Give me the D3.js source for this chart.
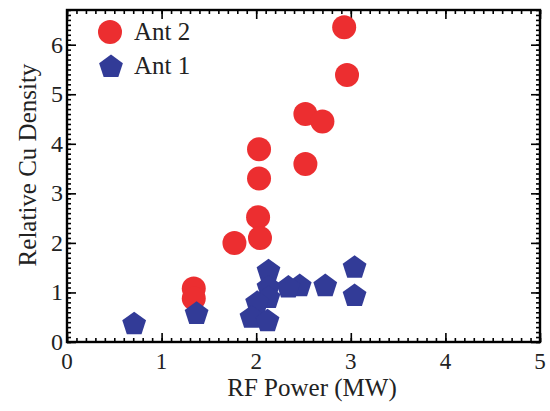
<!DOCTYPE html>
<html>
<head>
<meta charset="utf-8">
<script src="https://cdn.jsdelivr.net/npm/d3@7.9.0/dist/d3.min.js"></script>
<style>
  html, body { margin: 0; padding: 0; background: #fff; }
  svg text { font-family: 'Liberation Serif', 'Times New Roman', 'DejaVu Serif', serif; }
</style>
</head>
<body>
<div id="chart"></div>
<script>
// Ant 2 (red circles)
const ant2Power = [2.93, 2.96, 2.52, 2.70, 2.03, 2.52, 2.03, 2.02, 2.04, 1.77, 1.34, 1.34];
const ant2Cu    = [6.35, 5.39, 4.60, 4.45, 3.89, 3.59, 3.30, 2.52, 2.10, 2.00, 1.08, 0.88];

// Ant 1 (blue pentagons)
const ant1Power = [0.71, 1.37, 2.13, 2.46, 2.34, 2.73, 3.04, 3.04, 2.13, 2.13, 2.01, 1.95, 2.12];
const ant1Cu    = [0.38, 0.59, 1.45, 1.15, 1.12, 1.15, 1.52, 0.95, 1.12, 0.91, 0.81, 0.51, 0.44];

const xTicks = [0, 1, 2, 3, 4, 5];
const yTicks = [0, 1, 2, 3, 4, 5, 6];
const legendLabels = ['Ant 2', 'Ant 1'];

const width = 550, height = 411;
const area = { left: 67, right: 540, top: 10, bottom: 342 };
const red = '#ec2e30', blue = '#323b97';

const svg = d3.select('#chart').append('svg')
  .attr('width', width).attr('height', height);

const x = d3.scaleLinear().domain([0, 5]).range([area.left, area.right]);
const y = d3.scaleLinear().domain([0, 6.7]).range([area.bottom, area.top]);

const xMinor = d3.range(0, 50.5).map(i => i / 10);
const yMinor = d3.range(0, 67.5).map(i => i / 10);

// ticks on all four sides, pointing inward
function drawTicks(axisFn, scale, vals, len, transform) {
  svg.append('g')
    .attr('transform', transform)
    .call(axisFn(scale).tickValues(vals).tickSize(len).tickFormat(''))
    .call(g => g.select('.domain').remove())
    .selectAll('line').attr('stroke', '#000').attr('stroke-width', 1.6);
}
drawTicks(d3.axisTop, x, xMinor, 4, `translate(0,${area.bottom})`);
drawTicks(d3.axisTop, x, xTicks, 9, `translate(0,${area.bottom})`);
drawTicks(d3.axisBottom, x, xMinor, 4, `translate(0,${area.top})`);
drawTicks(d3.axisBottom, x, xTicks, 9, `translate(0,${area.top})`);
drawTicks(d3.axisRight, y, yMinor, 4, `translate(${area.left},0)`);
drawTicks(d3.axisRight, y, yTicks, 9, `translate(${area.left},0)`);
drawTicks(d3.axisLeft, y, yMinor, 4, `translate(${area.right},0)`);
drawTicks(d3.axisLeft, y, yTicks, 9, `translate(${area.right},0)`);

// frame
svg.append('rect')
  .attr('x', area.left).attr('y', area.top)
  .attr('width', area.right - area.left).attr('height', area.bottom - area.top)
  .attr('fill', 'none').attr('stroke', '#000').attr('stroke-width', 2.4);

// tick labels
svg.append('g').selectAll('text').data(xTicks).join('text')
  .attr('x', d => x(d)).attr('y', 369)
  .attr('text-anchor', 'middle')
  .attr('font-size', 23).attr('fill', '#222')
  .text(d => d);
svg.append('g').selectAll('text').data(yTicks).join('text')
  .attr('x', 63).attr('y', d => y(d) + 8)
  .attr('text-anchor', 'end')
  .attr('font-size', 24).attr('fill', '#222')
  .text(d => d);

// axis titles
svg.append('text')
  .attr('x', 312).attr('y', 396)
  .attr('text-anchor', 'middle')
  .attr('font-size', 25).attr('fill', '#222')
  .text('RF Power (MW)');
svg.append('text')
  .attr('transform', 'translate(36,165) rotate(-90)')
  .attr('text-anchor', 'middle')
  .attr('font-size', 25).attr('fill', '#222')
  .text('Relative Cu Density');

function pentPath(R) {
  const pts = d3.range(5).map(i => {
    const a = -Math.PI / 2 + i * 2 * Math.PI / 5;
    return [R * Math.cos(a), R * Math.sin(a)];
  });
  return 'M' + pts.map(p => p.join(',')).join('L') + 'Z';
}

const ant2 = ant2Power.map((p, i) => ({ p, c: ant2Cu[i] }));
const ant1 = ant1Power.map((p, i) => ({ p, c: ant1Cu[i] }));

svg.append('g').selectAll('circle').data(ant2).join('circle')
  .attr('cx', d => x(d.p)).attr('cy', d => y(d.c))
  .attr('r', 12).attr('fill', red);

svg.append('g').selectAll('path').data(ant1).join('path')
  .attr('d', pentPath(12.5))
  .attr('transform', d => `translate(${x(d.p)},${y(d.c) + 1})`)
  .attr('fill', blue);

// legend
const lg = svg.append('g');
lg.append('circle').attr('cx', 110).attr('cy', 32).attr('r', 12).attr('fill', red);
lg.append('path').attr('d', pentPath(12.5))
  .attr('transform', 'translate(111,67)').attr('fill', blue);
lg.selectAll('text').data(legendLabels).join('text')
  .attr('x', 134).attr('y', (d, i) => 40 + i * 34)
  .attr('font-size', 25).attr('fill', '#222')
  .text(d => d);
</script>
</body>
</html>
